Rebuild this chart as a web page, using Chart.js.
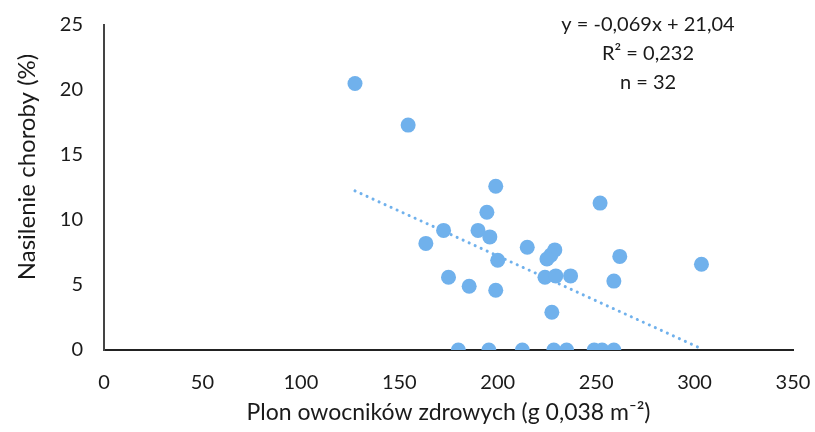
<!DOCTYPE html>
<html>
<head>
<meta charset="utf-8">
<script src="https://cdn.jsdelivr.net/npm/chart.js@4.4.1/dist/chart.umd.min.js"></script>
<style>
  html, body { margin: 0; padding: 0; background: #ffffff; }
  #wrap { width: 815px; height: 432px; position: relative; }
</style>
</head>
<body>
<div id="wrap"><canvas id="c"></canvas></div>
<script>
// Yield of healthy fruiting bodies (g per 0.038 m²) vs disease severity (%)
const yieldX = [
  127.5, 154.5, 199, 252, 194.5, 172.5, 190, 196, 163.5, 215,
  229, 227, 225, 262, 200, 175, 224, 229.5, 237, 259,
  185.5, 199, 227.5, 303.5,
  180, 195.5, 212.5, 228.5, 235, 249, 253, 259
];
const severityY = [
  20.5, 17.3, 12.6, 11.3, 10.6, 9.2, 9.2, 8.7, 8.2, 7.9,
  7.7, 7.3, 7.0, 7.2, 6.9, 5.6, 5.6, 5.7, 5.7, 5.3,
  4.9, 4.6, 2.9, 6.6,
  0, 0, 0, 0, 0, 0, 0, 0
];

// Linear fit reported for the data set
const slope = -0.069;
const intercept = 21.04;
const statLines = ['y = -0,069x + 21,04', 'R² = 0,232', 'n = 32'];

const xTicks = [0, 50, 100, 150, 200, 250, 300, 350];
const yTicks = [0, 5, 10, 15, 20, 25];
const xTitle = 'Plon owocników zdrowych (g 0,038 m⁻²)';
const yTitle = 'Nasilenie choroby (%)';

const FONT = 'Lato, "Open Sans", sans-serif';
const BLUE = 'rgb(112,177,236)';

const points = yieldX.map((x, i) => ({ x, y: severityY[i] }));
const xMin = Math.min(...yieldX), xMax = Math.max(...yieldX);
const trend = [
  { x: xMin, y: slope * xMin + intercept },
  { x: xMax, y: slope * xMax + intercept }
];

const textPlugin = {
  id: 'texts',
  afterDraw(chart) {
    const { ctx, chartArea: a } = chart;
    ctx.save();
    ctx.fillStyle = '#1a1a1a';
    ctx.textAlign = 'center';
    ctx.textBaseline = 'middle';
    // regression statistics
    ctx.font = '20px ' + FONT;
    statLines.forEach((t, i) => ctx.fillText(t, 648, 25 + i * 29));
    // axis titles
    ctx.font = '23px ' + FONT;
    ctx.fillText(xTitle, (a.left + a.right) / 2, 413);
    ctx.font = '24px ' + FONT;
    ctx.translate(27, 167);
    ctx.rotate(-Math.PI / 2);
    ctx.fillText(yTitle, 0, 0);
    ctx.restore();
  }
};

// keep the plot area fixed regardless of edge tick label widths
const noEdgePad = s => { s.paddingLeft = 0; s.paddingRight = 0; s.paddingTop = 0; s.paddingBottom = 0; };

new Chart(document.getElementById('c'), {
  type: 'scatter',
  data: {
    datasets: [
      {
        type: 'line',
        data: trend,
        borderColor: BLUE,
        borderWidth: 3,
        borderDash: [0.1, 6.5],
        borderCapStyle: 'round',
        pointRadius: 0,
        fill: false,
        order: 2
      },
      {
        data: points,
        backgroundColor: BLUE,
        borderColor: BLUE,
        pointRadius: 7.5,
        pointHoverRadius: 7.5,
        borderWidth: 0,
        order: 1
      }
    ]
  },
  options: {
    responsive: true,
    maintainAspectRatio: false,
    animation: false,
    events: [],
    layout: { padding: { top: 25, right: 22, left: 0, bottom: 0 } },
    plugins: { legend: { display: false }, tooltip: { enabled: false } },
    scales: {
      x: {
        type: 'linear',
        min: 0, max: 350,
        afterBuildTicks: s => { s.ticks = xTicks.map(v => ({ value: v })); },
        afterFit: s => { s.height = 82; noEdgePad(s); },
        grid: { display: false, drawTicks: false },
        border: { display: true, color: '#222', width: 2 },
        ticks: { color: '#1a1a1a', font: { family: FONT, size: 20 }, padding: 21, maxRotation: 0 }
      },
      y: {
        type: 'linear',
        min: 0, max: 25,
        afterBuildTicks: s => { s.ticks = yTicks.map(v => ({ value: v })); },
        afterFit: s => { s.width = 104; noEdgePad(s); },
        grid: { display: false, drawTicks: false },
        border: { display: true, color: '#444', width: 2 },
        ticks: { color: '#1a1a1a', font: { family: FONT, size: 20 }, padding: 21 }
      }
    }
  },
  plugins: [textPlugin]
});
</script>
</body>
</html>
